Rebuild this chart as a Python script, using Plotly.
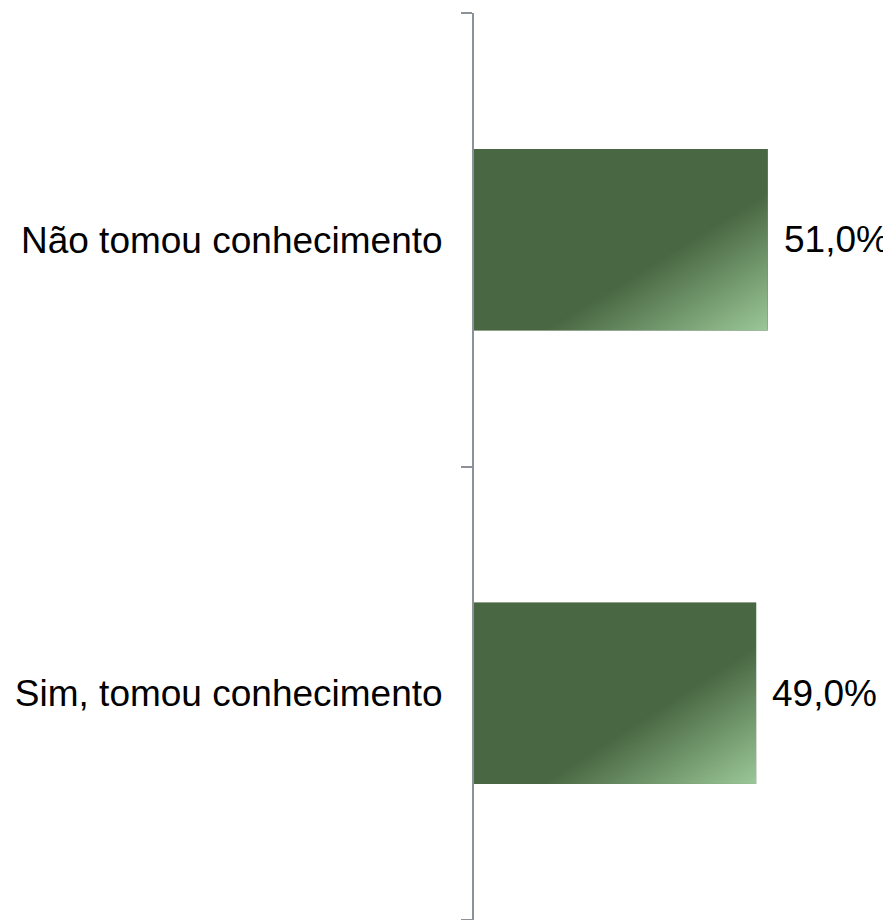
import base64
import plotly.graph_objects as go

categories = ["Sim, tomou conhecimento", "Não tomou conhecimento"]
values = [49.0, 51.0]
value_labels = ["49,0%", "51,0%"]

dark = "#496742"
light = "#9bc898"
font_family = "Liberation Sans, Arial, sans-serif"

svg = (
    "<svg xmlns='http://www.w3.org/2000/svg' width='100' height='100' "
    "viewBox='0 0 100 100' preserveAspectRatio='none'>"
    "<defs><linearGradient id='g' x1='0' y1='0' x2='1' y2='1'>"
    f"<stop offset='0' stop-color='{dark}'/>"
    f"<stop offset='0.62' stop-color='{dark}'/>"
    f"<stop offset='1' stop-color='{light}'/>"
    "</linearGradient></defs>"
    "<rect width='100' height='100' fill='url(#g)'/></svg>"
)
svg_uri = "data:image/svg+xml;base64," + base64.b64encode(svg.encode()).decode()

bar_width = 0.4

fig = go.Figure()
fig.add_trace(go.Bar(
    y=categories,
    x=values,
    orientation="h",
    marker=dict(color=dark, line=dict(width=0)),
    width=bar_width,
    hoverinfo="skip",
))

images = []
annotations = []
for i, (v, lab) in enumerate(zip(values, value_labels)):
    images.append(dict(
        source=svg_uri, xref="x", yref="y",
        x=0, y=i + bar_width / 2, sizex=v, sizey=bar_width,
        xanchor="left", yanchor="top", sizing="stretch", layer="above",
    ))
    annotations.append(dict(
        x=v, y=i, xref="x", yref="y", text=lab, showarrow=False,
        xanchor="left", yanchor="middle", xshift=14,
        font=dict(family=font_family, size=37, color="#000000"),
    ))

fig.update_layout(
    width=883, height=912,
    margin=dict(l=466, r=0, t=5, b=0),
    paper_bgcolor="white", plot_bgcolor="white",
    showlegend=False,
    images=images,
    annotations=annotations,
    font=dict(family=font_family, size=37, color="#000000"),
    xaxis=dict(range=[0, 72.4], visible=False, fixedrange=True),
    yaxis=dict(
        type="category",
        categoryorder="array", categoryarray=categories,
        range=[-0.5, 1.5],
        tickson="boundaries",
        ticks="outside", ticklen=11, tickwidth=2, tickcolor="#8c9299",
        showline=True, linecolor="#8c9299", linewidth=2,
        showgrid=False, zeroline=False,
        ticklabelstandoff=22,
        tickfont=dict(family=font_family, size=37, color="#000000"),
    ),
)

fig.write_html("out.html")
